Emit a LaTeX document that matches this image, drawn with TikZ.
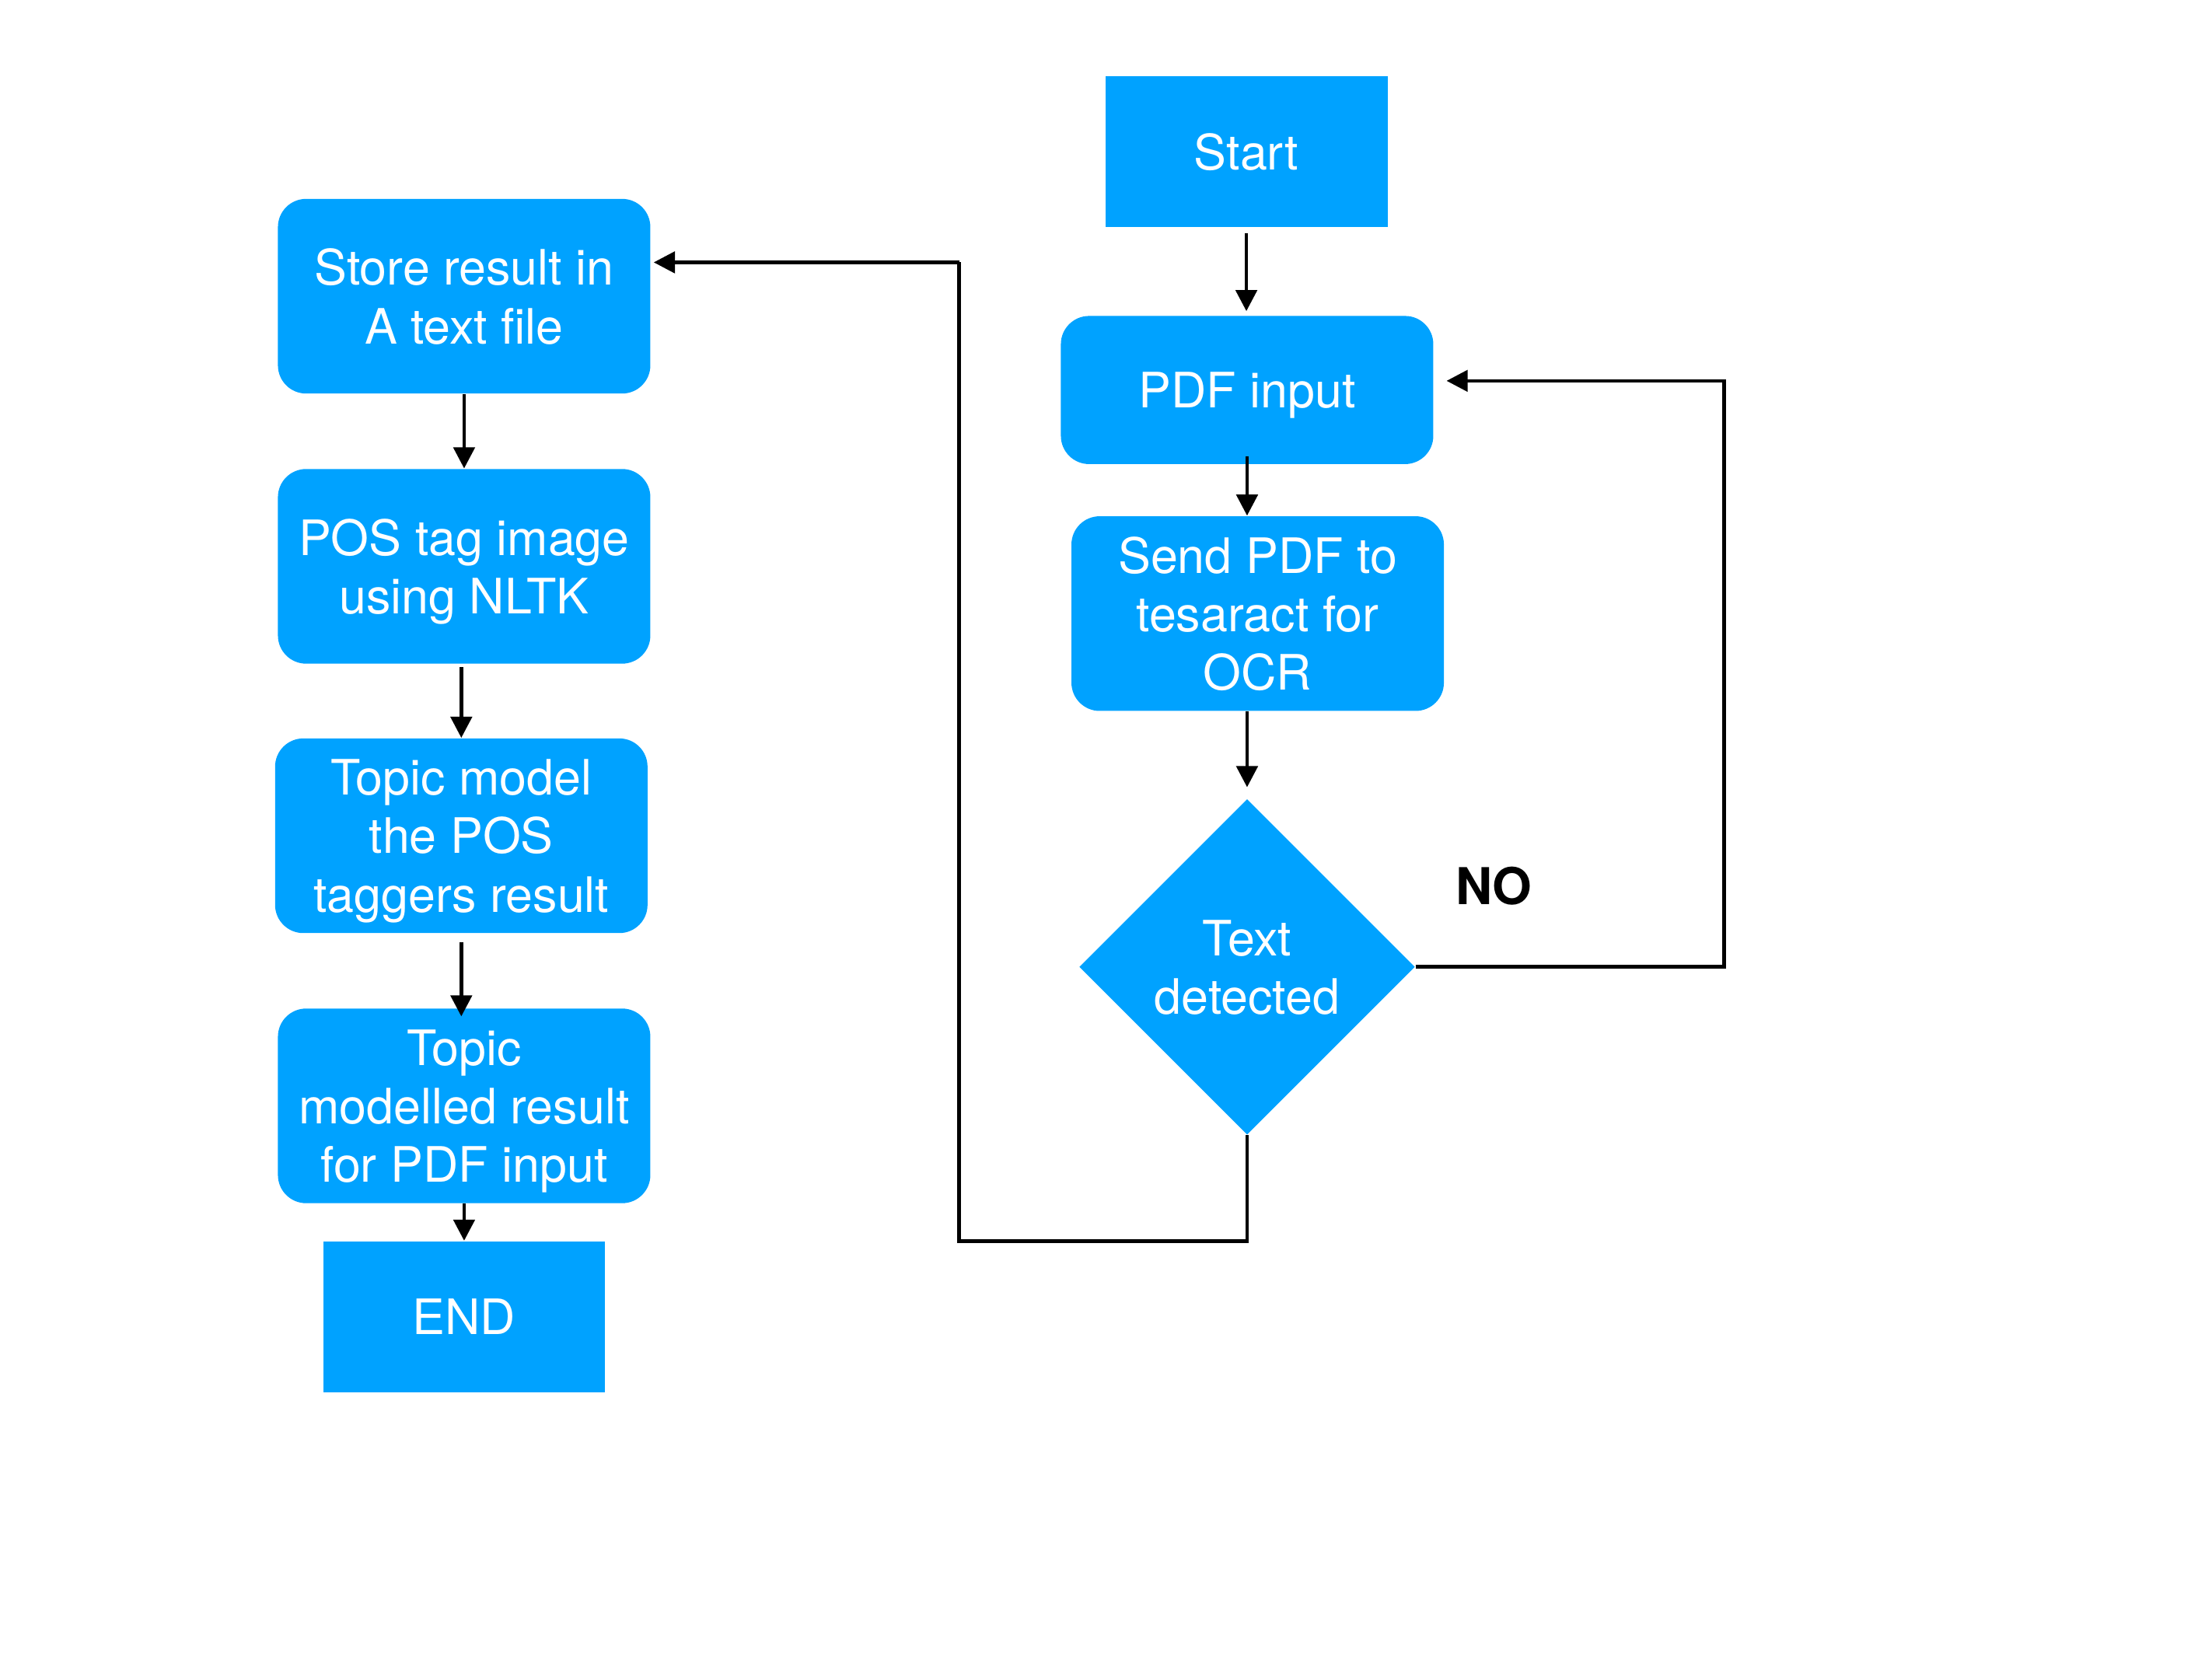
\documentclass[tikz,border=0pt]{standalone}
\usepackage{fontspec}
\setmainfont{TeX Gyre Heros}
\usetikzlibrary{shapes.geometric,arrows.meta}
\definecolor{boxblue}{RGB}{0,162,255}
\tikzset{
  base/.style={fill=boxblue, text=white, align=center, inner sep=0pt, text depth=0pt,
    font=\fontsize{17.3}{20.7}\selectfont},
  plainbox/.style={base, rectangle, minimum width=100pt, minimum height=53.5pt},
  roundbox/.style={base, rectangle, rounded corners=10pt, minimum width=132pt, minimum height=69pt},
  decision/.style={base, diamond, aspect=1, minimum width=119pt, minimum height=119pt},
  arr/.style={line width=1.3pt, -{Triangle[length=7.5pt,width=7.5pt]}},
  ln/.style={line width=1.3pt},
  lbl/.style={font=\fontsize{18}{21}\selectfont\bfseries, text=black}
}
\begin{document}
\begin{tikzpicture}[x=0.5pt, y=-0.5pt]
\useasboundingbox (0,0) rectangle (1568,1176);
% right column
\node[plainbox] (start) at (883.5,107.5) {Start};
\node[roundbox, minimum height=52.5pt] (pdf) at (884,276.5) {PDF input};
\node[roundbox] (send) at (891.5,435) {Send PDF to\\tesaract for\\OCR};
\node[decision] (dia) at (884,685.5) {Text\\detected};
\node[lbl] (no) at (1059,628) {NO};
% left column
\node[roundbox] (store) at (329,210) {Store result in\\A text file};
\node[roundbox] (pos) at (329,401.5) {POS tag image\\using NLTK};
\node[roundbox] (topic) at (327,592.5) {Topic model\\the POS\\taggers result};
\node[roundbox] (model) at (329,784) {Topic\\modelled result\\for PDF input};
\node[plainbox] (end) at (329,933.5) {END};
% coordinates for loops
\coordinate (r2) at (1222,270);
\coordinate (b2) at (680,880);
\coordinate (b3) at (680,186);
% arrows right column
\draw[arr, shorten <=2pt, shorten >=1.5pt] (start.south) -- (start.south |- pdf.north);
\draw[arr] ([yshift=3pt]pdf.south) -- (pdf.south |- send.north);
\draw[arr, shorten >=4pt] (dia.north |- send.south) -- (dia.north);
\draw[arr, shorten >=4.5pt] (dia.east) -| (r2) -- (pdf.east |- r2);
\draw[ln] (dia.south) -- (dia.south |- b2) -- (b2) -- (b3);
\draw[arr, shorten >=1pt] (b3) -- (store.east |- b3);
% arrows left column
\draw[arr] (store.south) -- (pos.north);
\draw[arr, shorten <=1pt] (topic.north |- pos.south) -- (topic.north);
\draw[arr, shorten <=3pt, shorten >=-3pt] (topic.south) -- (model.north -| topic.south);
\draw[arr] (model.south) -- (end.north);
\end{tikzpicture}
\end{document}
